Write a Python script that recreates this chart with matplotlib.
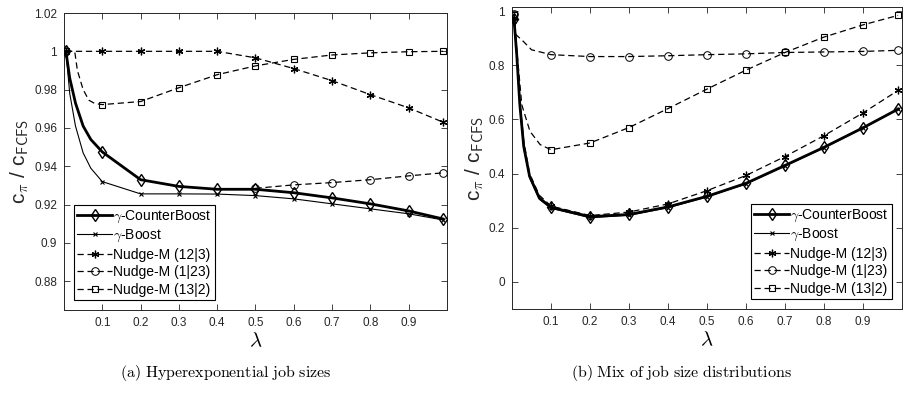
import matplotlib
matplotlib.use('Agg')
import matplotlib.pyplot as plt

plt.rcParams['font.family'] = ['Liberation Sans', 'DejaVu Sans']
plt.rcParams['mathtext.fontset'] = 'cm'

# lambda grid where the markers sit
lam = [0.005, 0.1, 0.2, 0.3, 0.4, 0.5, 0.6, 0.7, 0.8, 0.9, 0.99]
labels = [r'$\gamma$-CounterBoost', r'$\gamma$-Boost', 'Nudge-M (12|3)',
          'Nudge-M (1|23)', 'Nudge-M (13|2)']

# (a) hyperexponential job sizes
a_cb = [1.0, 0.9475, 0.933, 0.9295, 0.928, 0.928, 0.9262, 0.9235, 0.9204, 0.9167, 0.9125]
a_boost = [1.0, 0.932, 0.9256, 0.9256, 0.9255, 0.9247, 0.923, 0.9204, 0.9178, 0.9152, 0.912]
a_n123 = [1.0, 1.0, 1.0, 1.0, 1.0, 0.9966, 0.991, 0.9847, 0.9774, 0.9705, 0.963]
a_n1_23 = [0.9285, 0.9303, 0.9315, 0.933, 0.935, 0.9366]   # from lambda 0.5 on
a_n13_2 = [1.0, 0.9722, 0.9738, 0.981, 0.9878, 0.9924, 0.9958, 0.9981, 0.9992, 0.9998, 1.0]
# extra readings between the first markers (steep part)
a_cb_hx, a_cb_hy = [0.015, 0.03, 0.05, 0.07], [0.986, 0.973, 0.961, 0.954]
a_bo_hx, a_bo_hy = [0.015, 0.03, 0.05, 0.07], [0.978, 0.961, 0.947, 0.939]
a_sq_hx, a_sq_hy = [0.028, 0.035, 0.05, 0.065, 0.08], [1.0, 0.99, 0.98, 0.9745, 0.9728]

# (b) mix of job size distributions
b_cb = [0.97, 0.275, 0.241, 0.249, 0.277, 0.316, 0.364, 0.430, 0.497, 0.569, 0.638]
b_boost = [0.965, 0.272, 0.237, 0.246, 0.274, 0.314, 0.362, 0.428, 0.495, 0.568, 0.637]
b_n123 = [0.975, 0.28, 0.245, 0.258, 0.288, 0.337, 0.393, 0.463, 0.540, 0.624, 0.707]
b_n1_23 = [0.99, 0.839, 0.832, 0.832, 0.835, 0.839, 0.842, 0.847, 0.849, 0.851, 0.855]
b_n13_2 = [0.986, 0.488, 0.513, 0.570, 0.640, 0.712, 0.782, 0.847, 0.904, 0.949, 0.984]
b_cb_hx, b_cb_hy = [0.012, 0.02, 0.03, 0.045, 0.07], [0.84, 0.654, 0.50, 0.39, 0.31]
b_bo_hx, b_bo_hy = [0.012, 0.02, 0.03, 0.045, 0.07], [0.835, 0.648, 0.495, 0.385, 0.305]
b_st_hx, b_st_hy = [0.012, 0.02, 0.03, 0.045, 0.07], [0.85, 0.67, 0.52, 0.40, 0.32]
b_ci_hx, b_ci_hy = [0.01, 0.029, 0.05], [0.913, 0.888, 0.857]
b_sq_hx, b_sq_hy = [0.012, 0.025, 0.046, 0.072], [0.86, 0.654, 0.556, 0.507]

GREY = '#262626'
star = (6, 2, 0)


def series(y, hx=None, hy=None, xs=None):
    xs = lam if xs is None else xs
    if not hx:
        return list(xs), list(y), None
    x = [xs[0]] + hx + list(xs[1:])
    yy = [y[0]] + hy + list(y[1:])
    marks = [0] + list(range(len(hx) + 1, len(x)))
    return x, yy, marks


styles = [
    dict(lw=2.0, ls='-', marker='d', ms=6, mew=1.0),
    dict(lw=0.8, ls='-', marker='x', ms=3.5, mew=0.8),
    dict(lw=0.9, ls=(0, (5, 3)), marker=star, ms=5.5, mew=0.9),
    dict(lw=0.9, ls=(0, (5, 3)), marker='o', ms=5.5, mew=0.7),
    dict(lw=0.9, ls=(0, (5, 3)), marker='s', ms=4.8, mew=0.8),
]

fig = plt.figure(figsize=(9.09, 4.04), dpi=100)
ax1 = fig.add_axes([0.0704, 0.2327, 0.4213, 0.7351])
ax2 = fig.add_axes([0.5633, 0.2351, 0.4290, 0.7476])

data_a = [series(a_cb, a_cb_hx, a_cb_hy), series(a_boost, a_bo_hx, a_bo_hy),
          series(a_n123), series(a_n1_23, xs=lam[5:]),
          series(a_n13_2, a_sq_hx, a_sq_hy)]
data_b = [series(b_cb, b_cb_hx, b_cb_hy), series(b_boost, b_bo_hx, b_bo_hy),
          series(b_n123, b_st_hx, b_st_hy), series(b_n1_23, b_ci_hx, b_ci_hy),
          series(b_n13_2, b_sq_hx, b_sq_hy)]

# draw dashed first so solid lines sit on top, keep legend order
for ax, data in [(ax1, data_a), (ax2, data_b)]:
    lines = {}
    for i in [2, 3, 4, 1, 0]:
        x, y, m = data[i]
        lines[i], = ax.plot(x, y, color='k', markevery=m, markerfacecolor='none',
                            markeredgecolor='k', label=labels[i],
                            zorder=3 + (i < 2), **styles[i])
    h = [lines[i] for i in range(5)]
    leg_loc = 'lower left' if ax is ax1 else 'lower right'
    leg = ax.legend(h, labels, loc=leg_loc, fontsize=10, frameon=True, fancybox=False,
                    edgecolor='k', framealpha=1, borderpad=0.25, labelspacing=0.25,
                    handlelength=2.5, handletextpad=0.1, borderaxespad=0.7)
    leg.get_frame().set_linewidth(0.8)
    ax.set_xlim(0, 1)
    ax.set_xticks([0.1, 0.2, 0.3, 0.4, 0.5, 0.6, 0.7, 0.8, 0.9])
    ax.set_xticklabels(['0.1', '0.2', '0.3', '0.4', '0.5', '0.6', '0.7', '0.8', '0.9'])
    ax.tick_params(direction='in', top=True, right=True, length=4, width=0.6,
                   colors=GREY, labelsize=8.5, pad=5)
    for sp in ax.spines.values():
        sp.set_color(GREY)
        sp.set_linewidth(0.7)
    ax.set_xlabel(r'$\lambda$', fontsize=15, labelpad=2)
    ax.set_ylabel(r'c$_\pi$ / c$_{\mathsf{FCFS}}$', fontsize=15, color=GREY, labelpad=2)

ax1.set_ylim(0.865, 1.02)
ax1.set_yticks([0.88, 0.9, 0.92, 0.94, 0.96, 0.98, 1.0, 1.02])
ax1.set_yticklabels(['0.88', '0.9', '0.92', '0.94', '0.96', '0.98', '1', '1.02'])
ax2.set_ylim(-0.1, 1.015)
ax2.set_yticks([0, 0.2, 0.4, 0.6, 0.8, 1.0])
ax2.set_yticklabels(['0', '0.2', '0.4', '0.6', '0.8', '1'])

fig.text(0.2486, 0.077, r'$\mathrm{(a)\ Hyperexponential\ job\ sizes}$',
         ha='center', va='center', fontsize=11.5)
fig.text(0.7492, 0.077, r'$\mathrm{(b)\ Mix\ of\ job\ size\ distributions}$',
         ha='center', va='center', fontsize=11.5)

fig.savefig('out.png', dpi=100)
